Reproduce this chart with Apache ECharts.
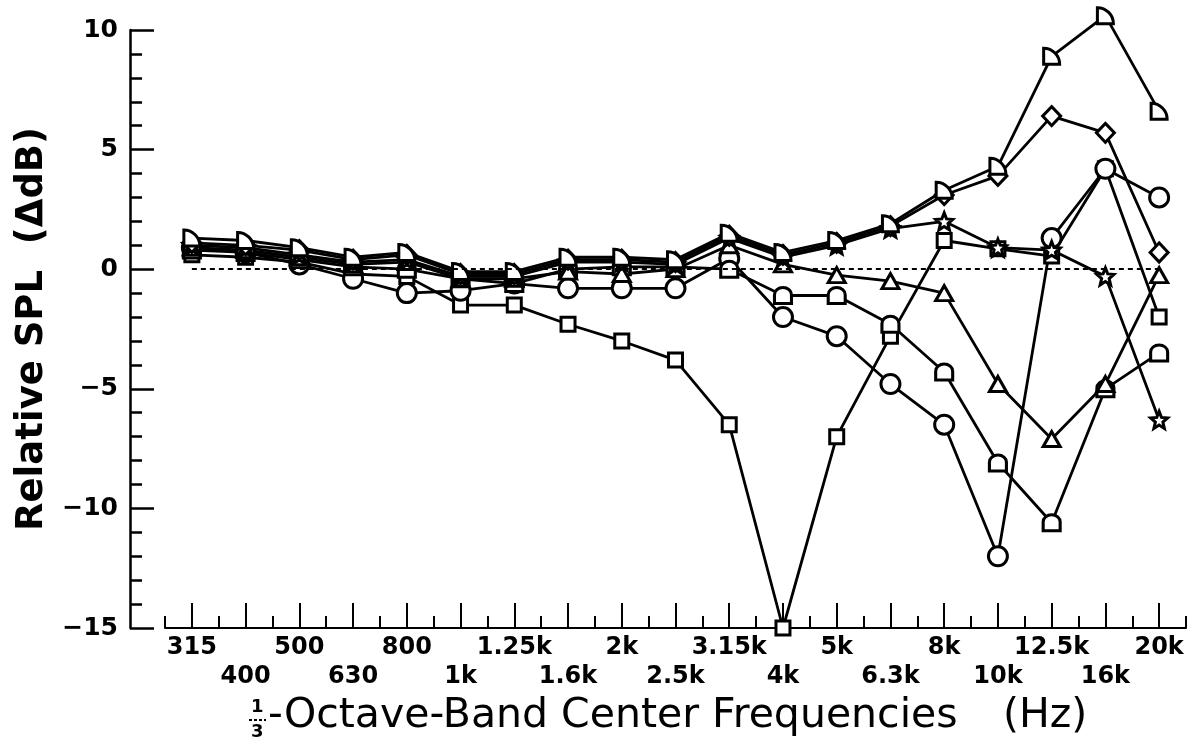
<!DOCTYPE html>
<html>
<head>
<meta charset="utf-8">
<script src="https://cdn.jsdelivr.net/npm/echarts@6/dist/echarts.min.js"></script>
<style>
  html, body { margin: 0; padding: 0; background: #fff; }
  #chart { width: 1190px; height: 746px; }
</style>
</head>
<body>
<div id="chart"></div>
<script>
// 1/3-octave band centre frequencies
const categories = ['315', '400', '500', '630', '800', '1k', '1.25k', '1.6k', '2k', '2.5k',
  '3.15k', '4k', '5k', '6.3k', '8k', '10k', '12.5k', '16k', '20k'];

// Relative SPL (dB) for each configuration
const quarterSeries = [1.3, 1.2, 0.9, 0.5, 0.7, -0.1, -0.1, 0.5, 0.5, 0.4, 1.5, 0.7, 1.2, 1.9, 3.3, 4.3, 8.9, 10.6, 6.6];
const diamondSeries = [1.1, 1.0, 0.8, 0.4, 0.6, -0.2, -0.2, 0.4, 0.4, 0.3, 1.4, 0.6, 1.1, 1.8, 3.1, 3.9, 6.4, 5.7, 0.7];
const starSeries    = [1.0, 0.9, 0.6, 0.3, 0.4, -0.3, -0.3, 0.3, 0.3, 0.2, 1.3, 0.5, 1.0, 1.7, 2.0, 0.9, 0.8, -0.3, -6.3];
const triangleSeries = [0.9, 0.8, 0.5, 0.2, 0.3, -0.4, -0.4, -0.1, -0.2, 0.0, 1.0, 0.2, -0.25, -0.5, -1.0, -4.8, -7.1, -4.8, -0.25];
const domeSeries    = [0.8, 0.7, 0.4, 0.1, 0.0, -0.4, -0.6, 0.0, 0.1, 0.1, 0.0, -1.1, -1.1, -2.3, -4.3, -8.1, -10.6, -5.0, -3.5];
const circleSeries  = [0.9, 0.7, 0.2, -0.4, -1.0, -0.9, -0.6, -0.8, -0.8, -0.8, 0.45, -2.0, -2.8, -4.8, -6.5, -12.0, 1.3, 4.2, 3.0];
const squareSeries  = [0.6, 0.5, 0.3, -0.2, -0.3, -1.5, -1.5, -2.3, -3.0, -3.8, -6.5, -15.0, -7.0, -2.8, 1.2, 0.85, 0.55, 4.2, -2.0];

// y axis range and tick step
const yMin = -15, yMax = 10, yStep = 5;

const FONT = '"DejaVu Sans", "Liberation Sans", sans-serif';

const STAR = 'path://M10,0 L12.6,6.4 L19.51,6.91 L14.2,11.4 L15.88,18.09 L10,14.5 L4.12,18.09 L5.8,11.4 L0.49,6.91 L7.4,6.4 Z';
const DOME = 'path://M0,20 L0,9 A9,9 0 0 1 18,9 L18,20 Z';
const QUARTER = 'path://M0,20 L0,0 A20,20 0 0 1 20,20 Z';

const groups = [
  { name: 'square', data: squareSeries, symbol: 'rect', size: 14 },
  { name: 'circle', data: circleSeries, symbol: 'circle', size: 19 },
  { name: 'dome', data: domeSeries, symbol: DOME, size: [17, 16] },
  { name: 'triangle', data: triangleSeries, symbol: 'triangle', size: [17, 15] },
  { name: 'star', data: starSeries, symbol: STAR, size: 17 },
  { name: 'diamond', data: diamondSeries, symbol: 'diamond', size: [18, 19] },
  { name: 'quarter', data: quarterSeries, symbol: QUARTER, size: 16 }
];

const series = [];
// connecting lines first, so every marker sits above every line
groups.forEach((g, i) => {
  series.push({
    name: g.name + '-line',
    type: 'line',
    data: g.data,
    symbol: 'none',
    clip: false,
    z: 2,
    lineStyle: { color: '#000', width: 2.8 },
    silent: true,
    markLine: i === 0 ? {
      silent: true,
      symbol: 'none',
      label: { show: false },
      lineStyle: { color: '#000', type: [5, 4], width: 2.2 },
      data: [[{ coord: [categories[0], 0] }, { coord: [categories[categories.length - 1], 0] }]]
    } : undefined
  });
});
groups.forEach(g => {
  series.push({
    name: g.name,
    type: 'scatter',
    data: g.data,
    symbol: g.symbol,
    symbolSize: g.size,
    clip: false,
    z: 3,
    itemStyle: { color: '#fff', borderColor: '#000', borderWidth: 3, opacity: 1 }
  });
});

const chart = echarts.init(document.getElementById('chart'), null, { renderer: 'canvas' });
chart.setOption({
  animation: false,
  backgroundColor: '#fff',
  grid: { left: 165, right: 4, top: 30, bottom: 118, containLabel: false },
  xAxis: [
    {
      type: 'category',
      data: categories,
      position: 'bottom',
      boundaryGap: true,
      axisLine: { show: true, onZero: false, lineStyle: { color: '#000', width: 2 } },
      axisTick: { show: true, inside: true, length: 12, interval: 0, lineStyle: { color: '#000', width: 2 } },
      axisLabel: {
        show: true,
        interval: 0,
        margin: 5,
        color: '#000',
        fontFamily: FONT,
        fontWeight: 'bold',
        fontSize: 24,
        lineHeight: 29,
        formatter: (v, idx) => (idx % 2 === 1 ? '\n' + v : v)
      },
      splitLine: { show: false }
    },
    {
      type: 'category',
      data: categories,
      position: 'bottom',
      offset: 0,
      boundaryGap: true,
      axisLine: { show: false, onZero: false },
      axisTick: { show: true, inside: true, alignWithLabel: true, length: 25, interval: 0, lineStyle: { color: '#000', width: 2 } },
      axisLabel: { show: false },
      splitLine: { show: false }
    }
  ],
  yAxis: {
    type: 'value',
    min: yMin,
    max: yMax,
    interval: yStep,
    offset: 35,
    name: 'Relative SPL  (ΔdB)',
    nameLocation: 'middle',
    nameRotate: 90,
    nameGap: 76,
    nameTextStyle: { color: '#000', fontFamily: FONT, fontWeight: 'bold', fontSize: 37 },
    axisLine: { show: true, onZero: false, lineStyle: { color: '#000', width: 2.5 } },
    axisTick: { show: true, inside: true, length: 24, lineStyle: { color: '#000', width: 2.5 } },
    minorTick: { show: true, splitNumber: 5, length: 12, lineStyle: { color: '#000', width: 2.5 } },
    axisLabel: {
      color: '#000',
      fontFamily: FONT,
      fontWeight: 'bold',
      fontSize: 25,
      margin: 12,
      formatter: v => (v < 0 ? '\u2212' + Math.abs(v) : String(v))
    },
    splitLine: { show: false }
  },
  graphic: [
    { type: 'text', left: 251, top: 698, style: { text: '1', fontFamily: FONT, fontWeight: 'bold', fontSize: 18, fill: '#000' } },
    { type: 'line', shape: { x1: 249, y1: 720, x2: 266, y2: 720 }, style: { stroke: '#000', lineWidth: 2, lineDash: [3, 2] } },
    { type: 'text', left: 251, top: 723, style: { text: '3', fontFamily: FONT, fontWeight: 'bold', fontSize: 18, fill: '#000' } },
    { type: 'text', left: 268, top: 696, style: { text: '-Octave-Band Center Frequencies', fontFamily: FONT, fontSize: 41, fill: '#000' } },
    { type: 'text', left: 1003, top: 696, style: { text: '(Hz)', fontFamily: FONT, fontSize: 41, fill: '#000' } }
  ],
  series: series
});
</script>
</body>
</html>
